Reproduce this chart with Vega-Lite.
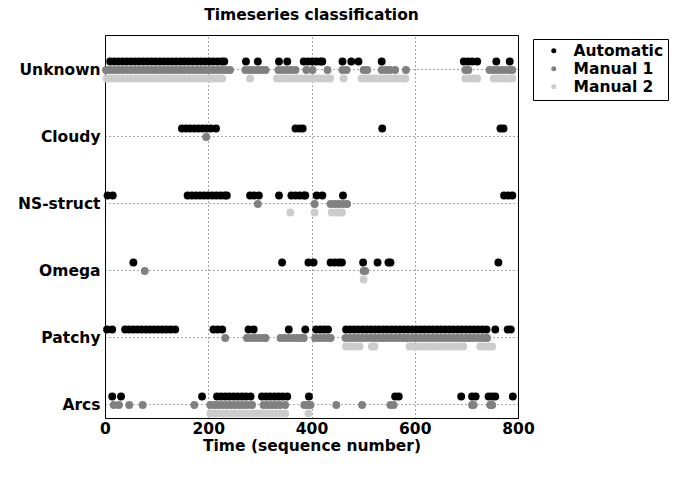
{
"$schema": "https://vega.github.io/schema/vega-lite/v6.json",
"width": 413, "height": 383,
"autosize": "none",
"padding": {"left": 105, "top": 35, "right": 162, "bottom": 66},
"title": {"text": "Timeseries classification", "font": "DejaVu Sans", "fontSize": 15.5, "fontWeight": "bold", "offset": 12, "anchor": "middle", "color": "#000"},
"config": {"view": {"stroke": "#000", "strokeWidth": 1}},
"data": {"values": [
{"t":10,"c":"Unknown","s":"Automatic"},{"t":18,"c":"Unknown","s":"Automatic"},{"t":26,"c":"Unknown","s":"Automatic"},{"t":34,"c":"Unknown","s":"Automatic"},{"t":42,"c":"Unknown","s":"Automatic"},{"t":50,"c":"Unknown","s":"Automatic"},{"t":58,"c":"Unknown","s":"Automatic"},{"t":66,"c":"Unknown","s":"Automatic"},{"t":74,"c":"Unknown","s":"Automatic"},{"t":82,"c":"Unknown","s":"Automatic"},{"t":90,"c":"Unknown","s":"Automatic"},{"t":98,"c":"Unknown","s":"Automatic"},{"t":106,"c":"Unknown","s":"Automatic"},{"t":114,"c":"Unknown","s":"Automatic"},{"t":122,"c":"Unknown","s":"Automatic"},{"t":130,"c":"Unknown","s":"Automatic"},{"t":138,"c":"Unknown","s":"Automatic"},{"t":146,"c":"Unknown","s":"Automatic"},{"t":154,"c":"Unknown","s":"Automatic"},{"t":162,"c":"Unknown","s":"Automatic"},{"t":170,"c":"Unknown","s":"Automatic"},{"t":178,"c":"Unknown","s":"Automatic"},{"t":186,"c":"Unknown","s":"Automatic"},{"t":194,"c":"Unknown","s":"Automatic"},{"t":202,"c":"Unknown","s":"Automatic"},{"t":210,"c":"Unknown","s":"Automatic"},{"t":218,"c":"Unknown","s":"Automatic"},{"t":226,"c":"Unknown","s":"Automatic"},{"t":231,"c":"Unknown","s":"Automatic"},{"t":273,"c":"Unknown","s":"Automatic"},{"t":296,"c":"Unknown","s":"Automatic"},{"t":337,"c":"Unknown","s":"Automatic"},{"t":353,"c":"Unknown","s":"Automatic"},{"t":385,"c":"Unknown","s":"Automatic"},{"t":393,"c":"Unknown","s":"Automatic"},{"t":401,"c":"Unknown","s":"Automatic"},{"t":409,"c":"Unknown","s":"Automatic"},{"t":417,"c":"Unknown","s":"Automatic"},{"t":421,"c":"Unknown","s":"Automatic"},{"t":460,"c":"Unknown","s":"Automatic"},{"t":477,"c":"Unknown","s":"Automatic"},{"t":491,"c":"Unknown","s":"Automatic"},{"t":536,"c":"Unknown","s":"Automatic"},{"t":695,"c":"Unknown","s":"Automatic"},{"t":703,"c":"Unknown","s":"Automatic"},{"t":711,"c":"Unknown","s":"Automatic"},{"t":721,"c":"Unknown","s":"Automatic"},{"t":758,"c":"Unknown","s":"Automatic"},{"t":784,"c":"Unknown","s":"Automatic"},
{"t":149,"c":"Cloudy","s":"Automatic"},{"t":157,"c":"Cloudy","s":"Automatic"},{"t":165,"c":"Cloudy","s":"Automatic"},{"t":173,"c":"Cloudy","s":"Automatic"},{"t":181,"c":"Cloudy","s":"Automatic"},{"t":189,"c":"Cloudy","s":"Automatic"},{"t":197,"c":"Cloudy","s":"Automatic"},{"t":205,"c":"Cloudy","s":"Automatic"},{"t":215,"c":"Cloudy","s":"Automatic"},{"t":369,"c":"Cloudy","s":"Automatic"},{"t":377,"c":"Cloudy","s":"Automatic"},{"t":383,"c":"Cloudy","s":"Automatic"},{"t":537,"c":"Cloudy","s":"Automatic"},{"t":766,"c":"Cloudy","s":"Automatic"},{"t":772,"c":"Cloudy","s":"Automatic"},
{"t":5,"c":"NS-struct","s":"Automatic"},{"t":15,"c":"NS-struct","s":"Automatic"},{"t":160,"c":"NS-struct","s":"Automatic"},{"t":168,"c":"NS-struct","s":"Automatic"},{"t":176,"c":"NS-struct","s":"Automatic"},{"t":184,"c":"NS-struct","s":"Automatic"},{"t":192,"c":"NS-struct","s":"Automatic"},{"t":200,"c":"NS-struct","s":"Automatic"},{"t":208,"c":"NS-struct","s":"Automatic"},{"t":216,"c":"NS-struct","s":"Automatic"},{"t":224,"c":"NS-struct","s":"Automatic"},{"t":232,"c":"NS-struct","s":"Automatic"},{"t":236,"c":"NS-struct","s":"Automatic"},{"t":281,"c":"NS-struct","s":"Automatic"},{"t":289,"c":"NS-struct","s":"Automatic"},{"t":298,"c":"NS-struct","s":"Automatic"},{"t":337,"c":"NS-struct","s":"Automatic"},{"t":361,"c":"NS-struct","s":"Automatic"},{"t":369,"c":"NS-struct","s":"Automatic"},{"t":377,"c":"NS-struct","s":"Automatic"},{"t":385,"c":"NS-struct","s":"Automatic"},{"t":388,"c":"NS-struct","s":"Automatic"},{"t":410,"c":"NS-struct","s":"Automatic"},{"t":421,"c":"NS-struct","s":"Automatic"},{"t":461,"c":"NS-struct","s":"Automatic"},{"t":773,"c":"NS-struct","s":"Automatic"},{"t":781,"c":"NS-struct","s":"Automatic"},{"t":789,"c":"NS-struct","s":"Automatic"},
{"t":55,"c":"Omega","s":"Automatic"},{"t":343,"c":"Omega","s":"Automatic"},{"t":394,"c":"Omega","s":"Automatic"},{"t":404,"c":"Omega","s":"Automatic"},{"t":437,"c":"Omega","s":"Automatic"},{"t":445,"c":"Omega","s":"Automatic"},{"t":453,"c":"Omega","s":"Automatic"},{"t":459,"c":"Omega","s":"Automatic"},{"t":500,"c":"Omega","s":"Automatic"},{"t":528,"c":"Omega","s":"Automatic"},{"t":549,"c":"Omega","s":"Automatic"},{"t":553,"c":"Omega","s":"Automatic"},{"t":762,"c":"Omega","s":"Automatic"},
{"t":4,"c":"Patchy","s":"Automatic"},{"t":14,"c":"Patchy","s":"Automatic"},{"t":39,"c":"Patchy","s":"Automatic"},{"t":47,"c":"Patchy","s":"Automatic"},{"t":55,"c":"Patchy","s":"Automatic"},{"t":63,"c":"Patchy","s":"Automatic"},{"t":71,"c":"Patchy","s":"Automatic"},{"t":79,"c":"Patchy","s":"Automatic"},{"t":87,"c":"Patchy","s":"Automatic"},{"t":95,"c":"Patchy","s":"Automatic"},{"t":103,"c":"Patchy","s":"Automatic"},{"t":111,"c":"Patchy","s":"Automatic"},{"t":119,"c":"Patchy","s":"Automatic"},{"t":127,"c":"Patchy","s":"Automatic"},{"t":136,"c":"Patchy","s":"Automatic"},{"t":210,"c":"Patchy","s":"Automatic"},{"t":218,"c":"Patchy","s":"Automatic"},{"t":227,"c":"Patchy","s":"Automatic"},{"t":278,"c":"Patchy","s":"Automatic"},{"t":288,"c":"Patchy","s":"Automatic"},{"t":356,"c":"Patchy","s":"Automatic"},{"t":388,"c":"Patchy","s":"Automatic"},{"t":409,"c":"Patchy","s":"Automatic"},{"t":417,"c":"Patchy","s":"Automatic"},{"t":425,"c":"Patchy","s":"Automatic"},{"t":432,"c":"Patchy","s":"Automatic"},{"t":467,"c":"Patchy","s":"Automatic"},{"t":475,"c":"Patchy","s":"Automatic"},{"t":483,"c":"Patchy","s":"Automatic"},{"t":491,"c":"Patchy","s":"Automatic"},{"t":499,"c":"Patchy","s":"Automatic"},{"t":507,"c":"Patchy","s":"Automatic"},{"t":515,"c":"Patchy","s":"Automatic"},{"t":523,"c":"Patchy","s":"Automatic"},{"t":531,"c":"Patchy","s":"Automatic"},{"t":539,"c":"Patchy","s":"Automatic"},{"t":547,"c":"Patchy","s":"Automatic"},{"t":555,"c":"Patchy","s":"Automatic"},{"t":563,"c":"Patchy","s":"Automatic"},{"t":571,"c":"Patchy","s":"Automatic"},{"t":579,"c":"Patchy","s":"Automatic"},{"t":587,"c":"Patchy","s":"Automatic"},{"t":595,"c":"Patchy","s":"Automatic"},{"t":603,"c":"Patchy","s":"Automatic"},{"t":611,"c":"Patchy","s":"Automatic"},{"t":619,"c":"Patchy","s":"Automatic"},{"t":627,"c":"Patchy","s":"Automatic"},{"t":635,"c":"Patchy","s":"Automatic"},{"t":643,"c":"Patchy","s":"Automatic"},{"t":651,"c":"Patchy","s":"Automatic"},{"t":659,"c":"Patchy","s":"Automatic"},{"t":667,"c":"Patchy","s":"Automatic"},{"t":675,"c":"Patchy","s":"Automatic"},{"t":683,"c":"Patchy","s":"Automatic"},{"t":691,"c":"Patchy","s":"Automatic"},{"t":699,"c":"Patchy","s":"Automatic"},{"t":707,"c":"Patchy","s":"Automatic"},{"t":715,"c":"Patchy","s":"Automatic"},{"t":723,"c":"Patchy","s":"Automatic"},{"t":731,"c":"Patchy","s":"Automatic"},{"t":739,"c":"Patchy","s":"Automatic"},{"t":756,"c":"Patchy","s":"Automatic"},{"t":780,"c":"Patchy","s":"Automatic"},{"t":786,"c":"Patchy","s":"Automatic"},
{"t":14,"c":"Arcs","s":"Automatic"},{"t":31,"c":"Arcs","s":"Automatic"},{"t":188,"c":"Arcs","s":"Automatic"},{"t":217,"c":"Arcs","s":"Automatic"},{"t":225,"c":"Arcs","s":"Automatic"},{"t":233,"c":"Arcs","s":"Automatic"},{"t":241,"c":"Arcs","s":"Automatic"},{"t":249,"c":"Arcs","s":"Automatic"},{"t":257,"c":"Arcs","s":"Automatic"},{"t":265,"c":"Arcs","s":"Automatic"},{"t":273,"c":"Arcs","s":"Automatic"},{"t":282,"c":"Arcs","s":"Automatic"},{"t":304,"c":"Arcs","s":"Automatic"},{"t":312,"c":"Arcs","s":"Automatic"},{"t":320,"c":"Arcs","s":"Automatic"},{"t":328,"c":"Arcs","s":"Automatic"},{"t":336,"c":"Arcs","s":"Automatic"},{"t":344,"c":"Arcs","s":"Automatic"},{"t":353,"c":"Arcs","s":"Automatic"},{"t":395,"c":"Arcs","s":"Automatic"},{"t":562,"c":"Arcs","s":"Automatic"},{"t":569,"c":"Arcs","s":"Automatic"},{"t":690,"c":"Arcs","s":"Automatic"},{"t":711,"c":"Arcs","s":"Automatic"},{"t":718,"c":"Arcs","s":"Automatic"},{"t":743,"c":"Arcs","s":"Automatic"},{"t":750,"c":"Arcs","s":"Automatic"},{"t":756,"c":"Arcs","s":"Automatic"},{"t":790,"c":"Arcs","s":"Automatic"},
{"t":2,"c":"Unknown","s":"Manual 1"},{"t":10,"c":"Unknown","s":"Manual 1"},{"t":18,"c":"Unknown","s":"Manual 1"},{"t":26,"c":"Unknown","s":"Manual 1"},{"t":34,"c":"Unknown","s":"Manual 1"},{"t":42,"c":"Unknown","s":"Manual 1"},{"t":50,"c":"Unknown","s":"Manual 1"},{"t":58,"c":"Unknown","s":"Manual 1"},{"t":66,"c":"Unknown","s":"Manual 1"},{"t":74,"c":"Unknown","s":"Manual 1"},{"t":82,"c":"Unknown","s":"Manual 1"},{"t":90,"c":"Unknown","s":"Manual 1"},{"t":98,"c":"Unknown","s":"Manual 1"},{"t":106,"c":"Unknown","s":"Manual 1"},{"t":114,"c":"Unknown","s":"Manual 1"},{"t":122,"c":"Unknown","s":"Manual 1"},{"t":130,"c":"Unknown","s":"Manual 1"},{"t":138,"c":"Unknown","s":"Manual 1"},{"t":146,"c":"Unknown","s":"Manual 1"},{"t":154,"c":"Unknown","s":"Manual 1"},{"t":162,"c":"Unknown","s":"Manual 1"},{"t":170,"c":"Unknown","s":"Manual 1"},{"t":178,"c":"Unknown","s":"Manual 1"},{"t":186,"c":"Unknown","s":"Manual 1"},{"t":194,"c":"Unknown","s":"Manual 1"},{"t":202,"c":"Unknown","s":"Manual 1"},{"t":210,"c":"Unknown","s":"Manual 1"},{"t":218,"c":"Unknown","s":"Manual 1"},{"t":226,"c":"Unknown","s":"Manual 1"},{"t":234,"c":"Unknown","s":"Manual 1"},{"t":242,"c":"Unknown","s":"Manual 1"},{"t":272,"c":"Unknown","s":"Manual 1"},{"t":280,"c":"Unknown","s":"Manual 1"},{"t":288,"c":"Unknown","s":"Manual 1"},{"t":296,"c":"Unknown","s":"Manual 1"},{"t":304,"c":"Unknown","s":"Manual 1"},{"t":311,"c":"Unknown","s":"Manual 1"},{"t":336,"c":"Unknown","s":"Manual 1"},{"t":344,"c":"Unknown","s":"Manual 1"},{"t":352,"c":"Unknown","s":"Manual 1"},{"t":360,"c":"Unknown","s":"Manual 1"},{"t":369,"c":"Unknown","s":"Manual 1"},{"t":390,"c":"Unknown","s":"Manual 1"},{"t":402,"c":"Unknown","s":"Manual 1"},{"t":431,"c":"Unknown","s":"Manual 1"},{"t":460,"c":"Unknown","s":"Manual 1"},{"t":468,"c":"Unknown","s":"Manual 1"},{"t":501,"c":"Unknown","s":"Manual 1"},{"t":508,"c":"Unknown","s":"Manual 1"},{"t":536,"c":"Unknown","s":"Manual 1"},{"t":544,"c":"Unknown","s":"Manual 1"},{"t":552,"c":"Unknown","s":"Manual 1"},{"t":562,"c":"Unknown","s":"Manual 1"},{"t":583,"c":"Unknown","s":"Manual 1"},{"t":698,"c":"Unknown","s":"Manual 1"},{"t":704,"c":"Unknown","s":"Manual 1"},{"t":745,"c":"Unknown","s":"Manual 1"},{"t":753,"c":"Unknown","s":"Manual 1"},{"t":761,"c":"Unknown","s":"Manual 1"},{"t":769,"c":"Unknown","s":"Manual 1"},{"t":777,"c":"Unknown","s":"Manual 1"},{"t":785,"c":"Unknown","s":"Manual 1"},{"t":789,"c":"Unknown","s":"Manual 1"},
{"t":196,"c":"Cloudy","s":"Manual 1"},
{"t":296,"c":"NS-struct","s":"Manual 1"},{"t":406,"c":"NS-struct","s":"Manual 1"},{"t":437,"c":"NS-struct","s":"Manual 1"},{"t":445,"c":"NS-struct","s":"Manual 1"},{"t":453,"c":"NS-struct","s":"Manual 1"},{"t":461,"c":"NS-struct","s":"Manual 1"},{"t":469,"c":"NS-struct","s":"Manual 1"},
{"t":77,"c":"Omega","s":"Manual 1"},{"t":501,"c":"Omega","s":"Manual 1"},{"t":504,"c":"Omega","s":"Manual 1"},
{"t":233,"c":"Patchy","s":"Manual 1"},{"t":275,"c":"Patchy","s":"Manual 1"},{"t":283,"c":"Patchy","s":"Manual 1"},{"t":291,"c":"Patchy","s":"Manual 1"},{"t":299,"c":"Patchy","s":"Manual 1"},{"t":307,"c":"Patchy","s":"Manual 1"},{"t":311,"c":"Patchy","s":"Manual 1"},{"t":340,"c":"Patchy","s":"Manual 1"},{"t":348,"c":"Patchy","s":"Manual 1"},{"t":356,"c":"Patchy","s":"Manual 1"},{"t":364,"c":"Patchy","s":"Manual 1"},{"t":372,"c":"Patchy","s":"Manual 1"},{"t":380,"c":"Patchy","s":"Manual 1"},{"t":385,"c":"Patchy","s":"Manual 1"},{"t":407,"c":"Patchy","s":"Manual 1"},{"t":415,"c":"Patchy","s":"Manual 1"},{"t":423,"c":"Patchy","s":"Manual 1"},{"t":431,"c":"Patchy","s":"Manual 1"},{"t":437,"c":"Patchy","s":"Manual 1"},{"t":466,"c":"Patchy","s":"Manual 1"},{"t":474,"c":"Patchy","s":"Manual 1"},{"t":482,"c":"Patchy","s":"Manual 1"},{"t":490,"c":"Patchy","s":"Manual 1"},{"t":498,"c":"Patchy","s":"Manual 1"},{"t":506,"c":"Patchy","s":"Manual 1"},{"t":514,"c":"Patchy","s":"Manual 1"},{"t":522,"c":"Patchy","s":"Manual 1"},{"t":530,"c":"Patchy","s":"Manual 1"},{"t":538,"c":"Patchy","s":"Manual 1"},{"t":546,"c":"Patchy","s":"Manual 1"},{"t":554,"c":"Patchy","s":"Manual 1"},{"t":562,"c":"Patchy","s":"Manual 1"},{"t":570,"c":"Patchy","s":"Manual 1"},{"t":578,"c":"Patchy","s":"Manual 1"},{"t":586,"c":"Patchy","s":"Manual 1"},{"t":594,"c":"Patchy","s":"Manual 1"},{"t":602,"c":"Patchy","s":"Manual 1"},{"t":610,"c":"Patchy","s":"Manual 1"},{"t":618,"c":"Patchy","s":"Manual 1"},{"t":626,"c":"Patchy","s":"Manual 1"},{"t":634,"c":"Patchy","s":"Manual 1"},{"t":642,"c":"Patchy","s":"Manual 1"},{"t":650,"c":"Patchy","s":"Manual 1"},{"t":658,"c":"Patchy","s":"Manual 1"},{"t":666,"c":"Patchy","s":"Manual 1"},{"t":674,"c":"Patchy","s":"Manual 1"},{"t":682,"c":"Patchy","s":"Manual 1"},{"t":690,"c":"Patchy","s":"Manual 1"},{"t":698,"c":"Patchy","s":"Manual 1"},{"t":706,"c":"Patchy","s":"Manual 1"},{"t":714,"c":"Patchy","s":"Manual 1"},{"t":722,"c":"Patchy","s":"Manual 1"},{"t":730,"c":"Patchy","s":"Manual 1"},{"t":738,"c":"Patchy","s":"Manual 1"},{"t":740,"c":"Patchy","s":"Manual 1"},
{"t":17,"c":"Arcs","s":"Manual 1"},{"t":27,"c":"Arcs","s":"Manual 1"},{"t":47,"c":"Arcs","s":"Manual 1"},{"t":73,"c":"Arcs","s":"Manual 1"},{"t":173,"c":"Arcs","s":"Manual 1"},{"t":204,"c":"Arcs","s":"Manual 1"},{"t":212,"c":"Arcs","s":"Manual 1"},{"t":220,"c":"Arcs","s":"Manual 1"},{"t":228,"c":"Arcs","s":"Manual 1"},{"t":236,"c":"Arcs","s":"Manual 1"},{"t":244,"c":"Arcs","s":"Manual 1"},{"t":252,"c":"Arcs","s":"Manual 1"},{"t":260,"c":"Arcs","s":"Manual 1"},{"t":268,"c":"Arcs","s":"Manual 1"},{"t":276,"c":"Arcs","s":"Manual 1"},{"t":285,"c":"Arcs","s":"Manual 1"},{"t":307,"c":"Arcs","s":"Manual 1"},{"t":315,"c":"Arcs","s":"Manual 1"},{"t":323,"c":"Arcs","s":"Manual 1"},{"t":331,"c":"Arcs","s":"Manual 1"},{"t":339,"c":"Arcs","s":"Manual 1"},{"t":349,"c":"Arcs","s":"Manual 1"},{"t":386,"c":"Arcs","s":"Manual 1"},{"t":392,"c":"Arcs","s":"Manual 1"},{"t":398,"c":"Arcs","s":"Manual 1"},{"t":448,"c":"Arcs","s":"Manual 1"},{"t":498,"c":"Arcs","s":"Manual 1"},{"t":553,"c":"Arcs","s":"Manual 1"},{"t":559,"c":"Arcs","s":"Manual 1"},{"t":711,"c":"Arcs","s":"Manual 1"},{"t":714,"c":"Arcs","s":"Manual 1"},{"t":746,"c":"Arcs","s":"Manual 1"},{"t":750,"c":"Arcs","s":"Manual 1"},
{"t":3,"c":"Unknown","s":"Manual 2"},{"t":11,"c":"Unknown","s":"Manual 2"},{"t":19,"c":"Unknown","s":"Manual 2"},{"t":27,"c":"Unknown","s":"Manual 2"},{"t":35,"c":"Unknown","s":"Manual 2"},{"t":43,"c":"Unknown","s":"Manual 2"},{"t":51,"c":"Unknown","s":"Manual 2"},{"t":59,"c":"Unknown","s":"Manual 2"},{"t":67,"c":"Unknown","s":"Manual 2"},{"t":75,"c":"Unknown","s":"Manual 2"},{"t":83,"c":"Unknown","s":"Manual 2"},{"t":91,"c":"Unknown","s":"Manual 2"},{"t":99,"c":"Unknown","s":"Manual 2"},{"t":107,"c":"Unknown","s":"Manual 2"},{"t":115,"c":"Unknown","s":"Manual 2"},{"t":123,"c":"Unknown","s":"Manual 2"},{"t":131,"c":"Unknown","s":"Manual 2"},{"t":139,"c":"Unknown","s":"Manual 2"},{"t":147,"c":"Unknown","s":"Manual 2"},{"t":155,"c":"Unknown","s":"Manual 2"},{"t":163,"c":"Unknown","s":"Manual 2"},{"t":171,"c":"Unknown","s":"Manual 2"},{"t":179,"c":"Unknown","s":"Manual 2"},{"t":187,"c":"Unknown","s":"Manual 2"},{"t":195,"c":"Unknown","s":"Manual 2"},{"t":203,"c":"Unknown","s":"Manual 2"},{"t":211,"c":"Unknown","s":"Manual 2"},{"t":219,"c":"Unknown","s":"Manual 2"},{"t":227,"c":"Unknown","s":"Manual 2"},{"t":281,"c":"Unknown","s":"Manual 2"},{"t":333,"c":"Unknown","s":"Manual 2"},{"t":341,"c":"Unknown","s":"Manual 2"},{"t":349,"c":"Unknown","s":"Manual 2"},{"t":357,"c":"Unknown","s":"Manual 2"},{"t":365,"c":"Unknown","s":"Manual 2"},{"t":373,"c":"Unknown","s":"Manual 2"},{"t":381,"c":"Unknown","s":"Manual 2"},{"t":389,"c":"Unknown","s":"Manual 2"},{"t":397,"c":"Unknown","s":"Manual 2"},{"t":405,"c":"Unknown","s":"Manual 2"},{"t":413,"c":"Unknown","s":"Manual 2"},{"t":421,"c":"Unknown","s":"Manual 2"},{"t":429,"c":"Unknown","s":"Manual 2"},{"t":436,"c":"Unknown","s":"Manual 2"},{"t":462,"c":"Unknown","s":"Manual 2"},{"t":497,"c":"Unknown","s":"Manual 2"},{"t":505,"c":"Unknown","s":"Manual 2"},{"t":513,"c":"Unknown","s":"Manual 2"},{"t":521,"c":"Unknown","s":"Manual 2"},{"t":529,"c":"Unknown","s":"Manual 2"},{"t":537,"c":"Unknown","s":"Manual 2"},{"t":545,"c":"Unknown","s":"Manual 2"},{"t":553,"c":"Unknown","s":"Manual 2"},{"t":561,"c":"Unknown","s":"Manual 2"},{"t":569,"c":"Unknown","s":"Manual 2"},{"t":577,"c":"Unknown","s":"Manual 2"},{"t":582,"c":"Unknown","s":"Manual 2"},{"t":698,"c":"Unknown","s":"Manual 2"},{"t":706,"c":"Unknown","s":"Manual 2"},{"t":714,"c":"Unknown","s":"Manual 2"},{"t":721,"c":"Unknown","s":"Manual 2"},{"t":753,"c":"Unknown","s":"Manual 2"},{"t":761,"c":"Unknown","s":"Manual 2"},{"t":769,"c":"Unknown","s":"Manual 2"},{"t":777,"c":"Unknown","s":"Manual 2"},{"t":785,"c":"Unknown","s":"Manual 2"},{"t":789,"c":"Unknown","s":"Manual 2"},
{"t":359,"c":"NS-struct","s":"Manual 2"},{"t":406,"c":"NS-struct","s":"Manual 2"},{"t":439,"c":"NS-struct","s":"Manual 2"},{"t":447,"c":"NS-struct","s":"Manual 2"},{"t":455,"c":"NS-struct","s":"Manual 2"},{"t":459,"c":"NS-struct","s":"Manual 2"},
{"t":501,"c":"Omega","s":"Manual 2"},
{"t":467,"c":"Patchy","s":"Manual 2"},{"t":475,"c":"Patchy","s":"Manual 2"},{"t":485,"c":"Patchy","s":"Manual 2"},{"t":493,"c":"Patchy","s":"Manual 2"},{"t":517,"c":"Patchy","s":"Manual 2"},{"t":522,"c":"Patchy","s":"Manual 2"},{"t":590,"c":"Patchy","s":"Manual 2"},{"t":598,"c":"Patchy","s":"Manual 2"},{"t":606,"c":"Patchy","s":"Manual 2"},{"t":614,"c":"Patchy","s":"Manual 2"},{"t":622,"c":"Patchy","s":"Manual 2"},{"t":630,"c":"Patchy","s":"Manual 2"},{"t":638,"c":"Patchy","s":"Manual 2"},{"t":646,"c":"Patchy","s":"Manual 2"},{"t":654,"c":"Patchy","s":"Manual 2"},{"t":662,"c":"Patchy","s":"Manual 2"},{"t":670,"c":"Patchy","s":"Manual 2"},{"t":678,"c":"Patchy","s":"Manual 2"},{"t":686,"c":"Patchy","s":"Manual 2"},{"t":694,"c":"Patchy","s":"Manual 2"},{"t":727,"c":"Patchy","s":"Manual 2"},{"t":735,"c":"Patchy","s":"Manual 2"},{"t":743,"c":"Patchy","s":"Manual 2"},{"t":750,"c":"Patchy","s":"Manual 2"},
{"t":204,"c":"Arcs","s":"Manual 2"},{"t":212,"c":"Arcs","s":"Manual 2"},{"t":220,"c":"Arcs","s":"Manual 2"},{"t":228,"c":"Arcs","s":"Manual 2"},{"t":236,"c":"Arcs","s":"Manual 2"},{"t":244,"c":"Arcs","s":"Manual 2"},{"t":252,"c":"Arcs","s":"Manual 2"},{"t":260,"c":"Arcs","s":"Manual 2"},{"t":268,"c":"Arcs","s":"Manual 2"},{"t":276,"c":"Arcs","s":"Manual 2"},{"t":284,"c":"Arcs","s":"Manual 2"},{"t":292,"c":"Arcs","s":"Manual 2"},{"t":300,"c":"Arcs","s":"Manual 2"},{"t":308,"c":"Arcs","s":"Manual 2"},{"t":316,"c":"Arcs","s":"Manual 2"},{"t":324,"c":"Arcs","s":"Manual 2"},{"t":332,"c":"Arcs","s":"Manual 2"},{"t":340,"c":"Arcs","s":"Manual 2"},{"t":349,"c":"Arcs","s":"Manual 2"},{"t":394,"c":"Arcs","s":"Manual 2"}
]},
"mark": {"type": "point", "filled": true, "size": 62, "opacity": 1, "strokeWidth": 0},
"encoding": {
  "x": {"field": "t", "type": "quantitative",
    "scale": {"domain": [0, 800], "nice": false, "zero": false},
    "axis": {"values": [0, 200, 400, 600, 800], "title": "Time (sequence number)", "grid": true, "gridDash": [1, 3], "gridColor": "#000", "gridOpacity": 0.7,
      "domain": false, "ticks": false, "labelPadding": 3, "labelFont": "DejaVu Sans", "labelFontSize": 15.5, "labelFontWeight": "bold", "labelColor": "#000", "labelFlush": false,
      "titleFont": "DejaVu Sans", "titleFontSize": 15.5, "titleFontWeight": "bold", "titleColor": "#000", "titlePadding": 2}},
  "y": {"field": "c", "type": "nominal",
    "scale": {"domain": ["Unknown", "Cloudy", "NS-struct", "Omega", "Patchy", "Arcs"], "paddingInner": 1, "paddingOuter": 0.358, "align": 0.729},
    "axis": {"title": null, "grid": true, "bandPosition": 0.5, "gridDash": [1, 3], "gridColor": "#000", "gridOpacity": 0.7,
      "domain": false, "ticks": false, "labelPadding": 5, "labelFont": "DejaVu Sans", "labelFontSize": 15.5, "labelFontWeight": "bold", "labelColor": "#000"}},
  "yOffset": {"field": "s", "type": "nominal",
    "scale": {"type": "point", "domain": ["Automatic", "Manual 1", "Manual 2"], "range": [-8.5, 8.5], "padding": 0}},
  "color": {"field": "s", "type": "nominal",
    "scale": {"domain": ["Automatic", "Manual 1", "Manual 2"], "range": ["#000000", "#808080", "#cccccc"]},
    "legend": {"title": null, "orient": "none", "legendX": 428, "legendY": 4, "strokeColor": "#000", "fillColor": "#fff", "padding": 4,
      "symbolType": "circle", "symbolSize": 25, "symbolStrokeWidth": 0, "symbolOffset": 9, "labelOffset": 12, "rowPadding": 1,
      "labelFont": "DejaVu Sans", "labelFontSize": 15.5, "labelFontWeight": "bold", "labelColor": "#000"}}
}
}
